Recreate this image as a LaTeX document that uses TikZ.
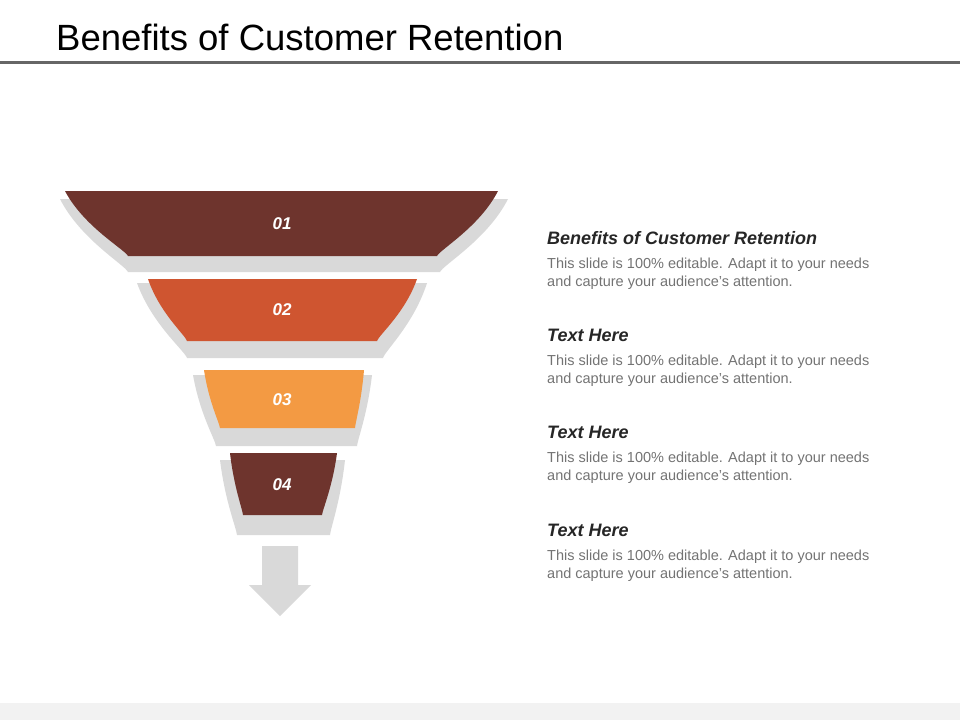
\documentclass[tikz,border=0pt]{standalone}
\usepackage{fontspec}
\setmainfont{Liberation Sans}
\begin{document}
\begin{tikzpicture}[x=1pt,y=-1pt,
  shadow/.style={fill=black!15},
  num/.style={font=\bfseries\itshape\fontsize{17}{20}\selectfont,text=white},
  head/.style={font=\bfseries\itshape\fontsize{18}{20}\selectfont,text=black!85,anchor=west,inner sep=0},
  body/.style={font=\fontsize{14.5}{17.5}\selectfont,text=black!55,anchor=north west,align=left,inner sep=0}]
\definecolor{c1}{HTML}{6E342D}
\definecolor{c2}{HTML}{CF5530}
\definecolor{c3}{HTML}{F39A43}
\useasboundingbox (0,0) rectangle (960,720);
\fill[black!5] (0,703) rectangle (960,720);
\fill[black!60] (0,61) rectangle (960,64);
\node[anchor=west,font=\fontsize{36.5}{40}\selectfont,inner sep=0] (title) at (56,37) {Benefits of Customer Retention};
% funnel segments: #1 top-left x, #2 top-right x, #3 top y, #4 bottom y, #5 bottom-left x, #6 bottom-right x, #7 style
\newcommand{\seg}[7]{%
  \fill[#7] (#1,#3) -- (#2,#3) .. controls ({#2-0.3*(#2-#6)},{#3+0.55*(#4-#3)}) and ({#6+0.05*(#2-#6)},{#4-0.1*(#4-#3)}) .. (#6,#4) -- (#5,#4) .. controls ({#5-0.05*(#5-#1)},{#4-0.1*(#4-#3)}) and ({#1+0.3*(#5-#1)},{#3+0.55*(#4-#3)}) .. (#1,#3) -- cycle;}
\seg{60}{508}{199}{272}{128}{440}{shadow}
\seg{65}{498}{191}{256}{128}{437}{c1}
\seg{137}{427}{283}{358}{187}{383}{shadow}
\seg{148}{417}{279}{341}{187}{377}{c2}
\seg{193}{372}{375}{446}{216}{357}{shadow}
\seg{204}{364}{370}{428}{220}{355}{c3}
\seg{220}{345}{460}{535}{237}{330}{shadow}
\seg{230}{337}{453}{515}{243}{322}{c1}
\node[num] (n1) at (282,224) {01};
\node[num] (n2) at (282,310) {02};
\node[num] (n3) at (282,400) {03};
\node[num] (n4) at (282,485) {04};
\fill[black!15] (262,546) -- (298,546) -- (298,585) -- (311,585) -- (280,616) -- (249,585) -- (262,585) -- cycle;
\foreach \y/\t [count=\i] in {238/Benefits of Customer Retention,335/Text Here,432/Text Here,530/Text Here}{
  \node[head] (h\i) at (547,\y) {\t};
  \node[body] (b\i) at (547,\y+20) {This slide is 100\% editable. Adapt it to your needs\\and capture your audience's attention.};
}
\end{tikzpicture}
\end{document}
